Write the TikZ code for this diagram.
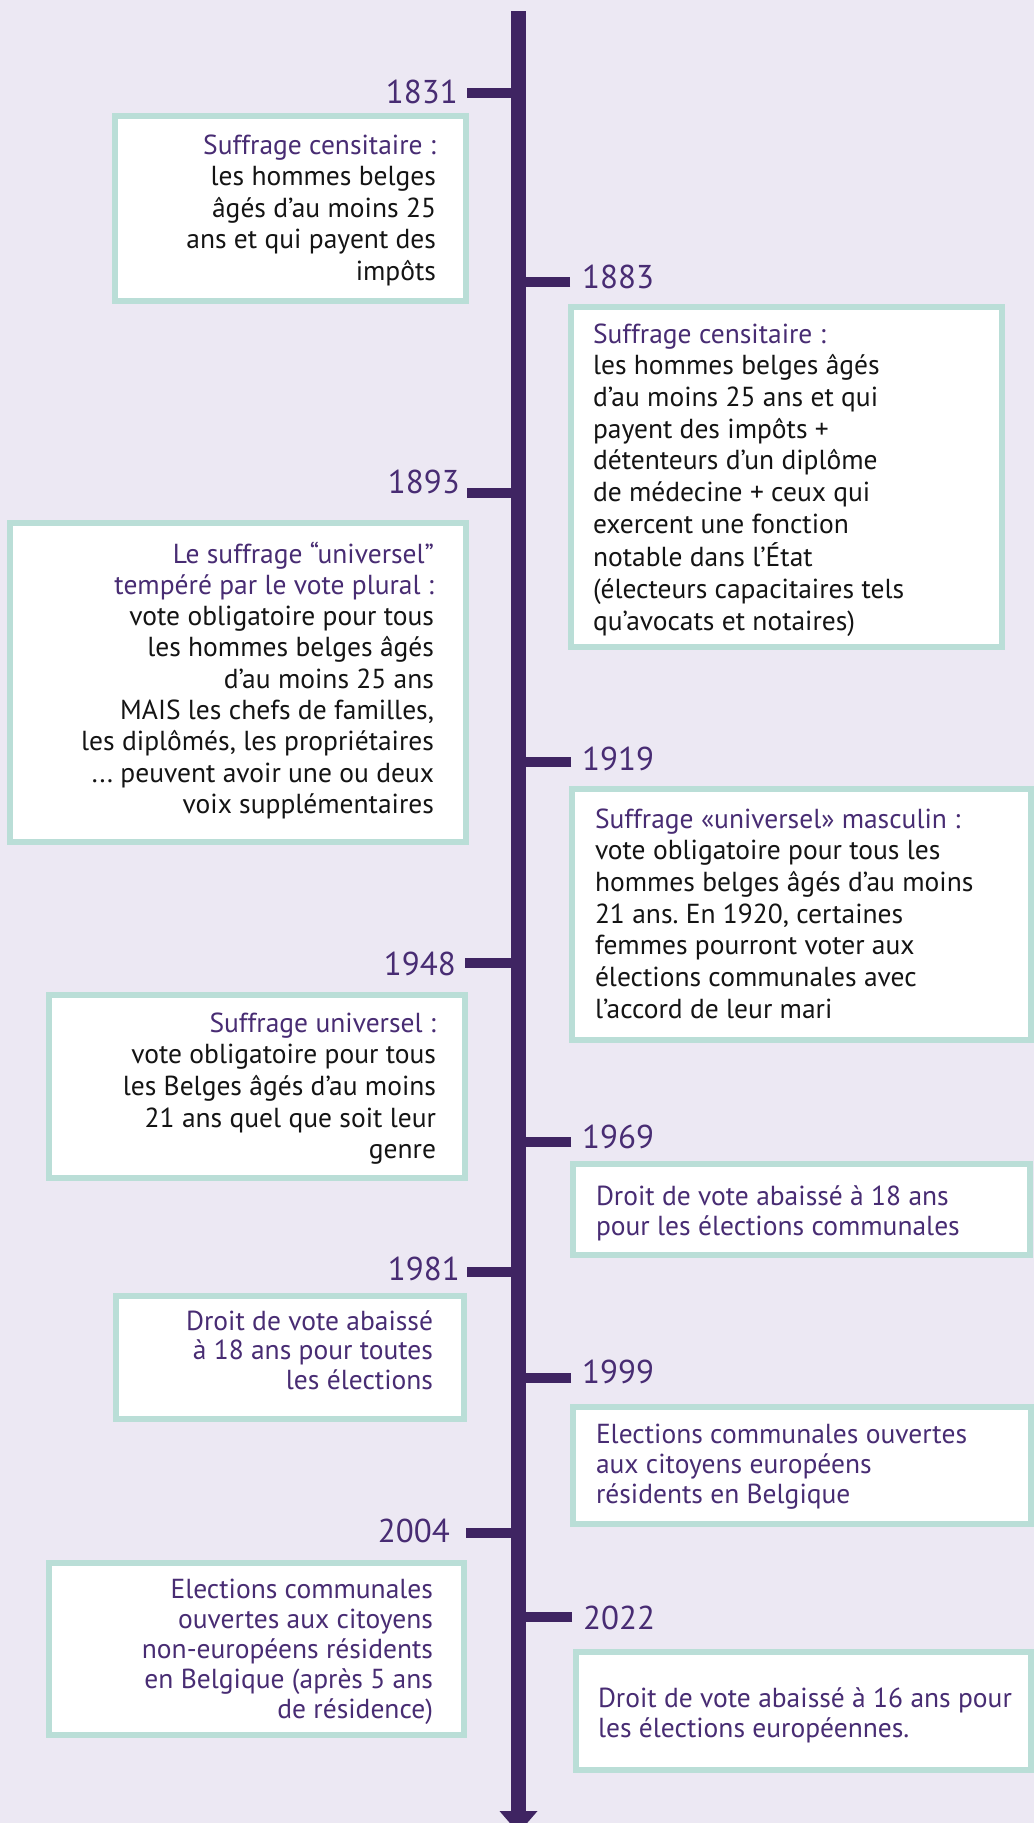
\documentclass[tikz,border=0pt]{standalone}
\usepackage{fontspec}
\setmainfont{PT Sans}
\frenchspacing
\definecolor{bgc}{RGB}{236,232,243}
\definecolor{axc}{RGB}{63,36,98}
\definecolor{hdr}{RGB}{72,44,115}
\definecolor{bdr}{RGB}{186,222,215}
\definecolor{bodyc}{RGB}{20,20,20}
\newcommand\tlbox[5]{\node[tlbox, anchor=north west, minimum width={#4-#2-6}, minimum height={#5-#3-6}] (#1) at (#2+3,#3+3) {};}
\newcommand\rtext[5]{\node[txt, anchor=base east, font=\fontsize{27.5}{#4}\selectfont\frenchspacing] (#1) at (#2,#3) {\begin{tabular}[t]{@{}r@{}}#5\end{tabular}};}
\newcommand\ltext[5]{\node[txt, anchor=base west, font=\fontsize{27.5}{#4}\selectfont\frenchspacing] (#1) at (#2,#3) {\begin{tabular}[t]{@{}l@{}}#5\end{tabular}};}
\begin{document}
\begin{tikzpicture}[x=1pt,y=-1pt,
  tlbox/.style={draw=bdr, line width=5.5pt, fill=white, inner sep=0pt, outer sep=0pt},
  txt/.style={inner sep=0pt, outer sep=0pt, text=bodyc},
  yearlbl/.style={inner sep=0pt, text=hdr, font=\fontsize{33}{40}\selectfont},
  tickline/.style={draw=axc, line width=10pt},
  axisline/.style={draw=axc, line width=15pt}]
\fill[bgc] (0,0) rectangle (1034,1823);
\useasboundingbox (0,0) rectangle (1034,1823);
\clip (0,0) rectangle (1034,1823);

% axis
\coordinate (ax) at (518.5,0);
\coordinate (atop) at (518.5,11);
\coordinate (abase) at (518.5,1811);
\coordinate (atip) at (518.5,1833);
\draw[axisline] (atop) -- (abase);
\fill[axc] ([xshift=-19pt]abase) -- ([xshift=19pt]abase) -- (atip) -- cycle;

% ticks
\coordinate (k1831) at (467,93);
\coordinate (k1883) at (570,282);
\coordinate (k1893) at (467,493);
\coordinate (k1919) at (571,762);
\coordinate (k1948) at (465,963);
\coordinate (k1969) at (571,1142);
\coordinate (k1981) at (467,1272);
\coordinate (k1999) at (571,1378);
\coordinate (k2004) at (466,1533);
\coordinate (k2022) at (572,1617);
\foreach \k in {1831,1883,1893,1919,1948,1969,1981,1999,2004,2022}
  \draw[tickline] (k\k) -- (k\k -| ax);

% year labels
\node[yearlbl, anchor=base east] (y1831) at (458,103) {1831};
\node[yearlbl, anchor=base west] (y1883) at (582,288) {1883};
\node[yearlbl, anchor=base east] (y1893) at (460,493) {1893};
\node[yearlbl, anchor=base west] (y1919) at (582,770) {1919};
\node[yearlbl, anchor=base east] (y1948) at (456,975) {1948};
\node[yearlbl, anchor=base west] (y1969) at (582,1148) {1969};
\node[yearlbl, anchor=base east] (y1981) at (460,1280) {1981};
\node[yearlbl, anchor=base west] (y1999) at (582,1383) {1999};
\node[yearlbl, anchor=base east] (y2004) at (450,1542) {2004};
\node[yearlbl, anchor=base west] (y2022) at (583,1629) {2022};

% boxes
\tlbox{b1831}{112}{113}{469}{304}
\tlbox{b1883}{568}{304}{1005}{650}
\tlbox{b1893}{7}{520}{469}{845}
\tlbox{b1919}{569}{786}{1034}{1043}
\tlbox{b1948}{46}{992}{468}{1181}
\tlbox{b1969}{570}{1161}{1033}{1258}
\tlbox{b1981}{113}{1293}{467}{1422}
\tlbox{b1999}{570}{1404}{1034}{1527}
\tlbox{b2004}{46}{1560}{467}{1738}
\tlbox{b2022}{573}{1649}{1034}{1773}

% texts
\rtext{t1831}{436}{154}{31.5}{\color{hdr}Suffrage censitaire :\\ les hommes belges\\ âgés d’au moins 25\\ ans et qui payent des\\ impôts}
\ltext{t1883}{593}{343}{31.7}{\color{hdr}Suffrage censitaire :\\ les hommes belges âgés\\ d’au moins 25 ans et qui\\ payent des impôts +\\ détenteurs d’un diplôme\\ de médecine + ceux qui\\ exercent une fonction\\ notable dans l’État\\ (électeurs capacitaires tels\\ qu’avocats et notaires)}
\rtext{t1893}{434}{563}{31.3}{\color{hdr}Le suffrage “universel”\\ \color{hdr}tempéré par le vote plural :\\ vote obligatoire pour tous\\ les hommes belges âgés\\ d’au moins 25 ans\\ MAIS les chefs de familles,\\ les diplômés, les propriétaires\\ ... peuvent avoir une ou deux\\ voix supplémentaires}
\ltext{t1919}{595}{828}{31.7}{\color{hdr}Suffrage «universel» masculin :\\ vote obligatoire pour tous les\\ hommes belges âgés d’au moins\\ 21 ans. En 1920, certaines\\ femmes pourront voter aux\\ élections communales avec\\ l’accord de leur mari}
\rtext{t1948}{436}{1032}{31.7}{\color{hdr}Suffrage universel :\\ vote obligatoire pour tous\\ les Belges âgés d’au moins\\ 21 ans quel que soit leur\\ genre}
\ltext{t1969}{596}{1205}{30}{\color{hdr}Droit de vote abaissé à 18 ans\\ \color{hdr}pour les élections communales}
\rtext{t1981}{433}{1330}{29.5}{\color{hdr}Droit de vote abaissé\\ \color{hdr}à 18 ans pour toutes\\ \color{hdr}les élections}
\ltext{t1999}{596}{1443}{30}{\color{hdr}Elections communales ouvertes\\ \color{hdr}aux citoyens européens\\ \color{hdr}résidents en Belgique}
\rtext{t2004}{433}{1598}{30}{\color{hdr}Elections communales\\ \color{hdr}ouvertes aux citoyens\\ \color{hdr}non-européens résidents\\ \color{hdr}en Belgique (après 5 ans\\ \color{hdr}de résidence)}
\ltext{t2022}{598}{1707}{30}{\color{hdr}Droit de vote abaissé à 16 ans pour\\ \color{hdr}les élections européennes.}
\end{tikzpicture}
\end{document}
